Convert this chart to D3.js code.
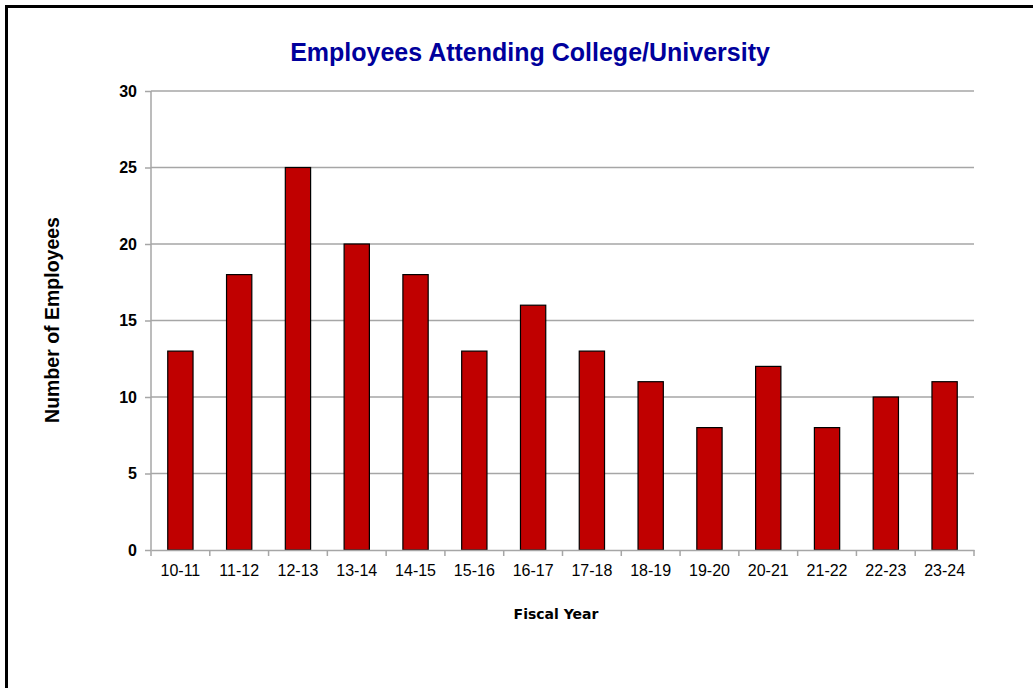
<!DOCTYPE html>
<html><head><meta charset="utf-8">
<script src="https://cdn.jsdelivr.net/npm/d3@7"></script>
<style>body{margin:0;background:#fff}svg{display:block}</style>
</head><body>
<script>
const categories = ["10-11","11-12","12-13","13-14","14-15","15-16","16-17","17-18","18-19","19-20","20-21","21-22","22-23","23-24"];
const values = [13,18,25,20,18,13,16,13,11,8,12,8,10,11];
const yTicks = [0,5,10,15,20,25,30];

const W = 1033, H = 688;
const m = {left:151, right:974, top:91, bottom:550};
const svg = d3.select("body").append("svg").attr("width",W).attr("height",H);
svg.append("rect").attr("width",W).attr("height",H).attr("fill","#fff");
svg.append("rect").attr("x",6.5).attr("y",6.5).attr("width",W+20).attr("height",H+20)
  .attr("fill","none").attr("stroke","#000").attr("stroke-width",3);

const x = d3.scaleBand().domain(categories).range([m.left,m.right]).paddingInner(0.57).paddingOuter(0.285);
const xb = d3.scaleBand().domain(categories).range([m.left,m.right]);
const y = d3.scaleLinear().domain([0,30]).range([m.bottom,m.top]);

// gridlines
svg.append("g").selectAll("line").data(yTicks.filter(d=>d>0)).join("line")
  .attr("x1",m.left).attr("x2",m.right).attr("y1",d=>y(d)).attr("y2",d=>y(d))
  .attr("stroke","#a6a6a6").attr("stroke-width",1.5);

// y axis
const ya = svg.append("g").attr("transform",`translate(${m.left},0)`)
  .call(d3.axisLeft(y).tickValues(yTicks).tickSize(6).tickPadding(8));
ya.select(".domain").attr("stroke","#a6a6a6").attr("stroke-width",1.5).attr("d",`M0,${m.top}V${m.bottom}`);
ya.selectAll(".tick line").attr("stroke","#a6a6a6").attr("stroke-width",1.5);
ya.selectAll(".tick text").attr("font-family","Liberation Sans, Arial, sans-serif").attr("font-weight","bold")
  .attr("font-size",16).attr("fill","#000");

// bars
svg.append("g").selectAll("rect").data(values).join("rect")
  .attr("x",(d,i)=>x(categories[i])).attr("width",x.bandwidth())
  .attr("y",d=>y(d)).attr("height",d=>y(0)-y(d))
  .attr("fill","#c00000").attr("stroke","#000").attr("stroke-width",1.2);

// x axis
const xa = svg.append("g").attr("transform",`translate(0,${m.bottom})`)
  .call(d3.axisBottom(xb).tickSize(0).tickPadding(15));
xa.select(".domain").attr("stroke","#a6a6a6").attr("stroke-width",1.5);
xa.selectAll(".tick text").attr("font-family","Liberation Sans, Arial, sans-serif")
  .attr("font-size",16).attr("fill","#000");
svg.append("g").selectAll("line").data(d3.range(categories.length+1)).join("line")
  .attr("x1",i=>m.left+i*xb.step()).attr("x2",i=>m.left+i*xb.step())
  .attr("y1",m.bottom).attr("y2",m.bottom+6).attr("stroke","#a6a6a6").attr("stroke-width",1.5);

// titles
svg.append("text").attr("x",530).attr("y",61).attr("text-anchor","middle")
  .attr("font-family","Liberation Sans, Arial, sans-serif").attr("font-weight","bold")
  .attr("font-size",25).attr("fill","#00009c").text("Employees Attending College/University");
svg.append("text").attr("x",556).attr("y",619).attr("text-anchor","middle")
  .attr("font-family","DejaVu Sans, Verdana, sans-serif").attr("font-weight","bold")
  .attr("font-size",14).attr("fill","#000").text("Fiscal Year");
svg.append("text").attr("transform","translate(59,320) rotate(-90)").attr("text-anchor","middle")
  .attr("font-family","Liberation Sans, Arial, sans-serif").attr("font-weight","bold")
  .attr("font-size",19.5).attr("fill","#000").text("Number of Employees");
</script>
</body></html>
